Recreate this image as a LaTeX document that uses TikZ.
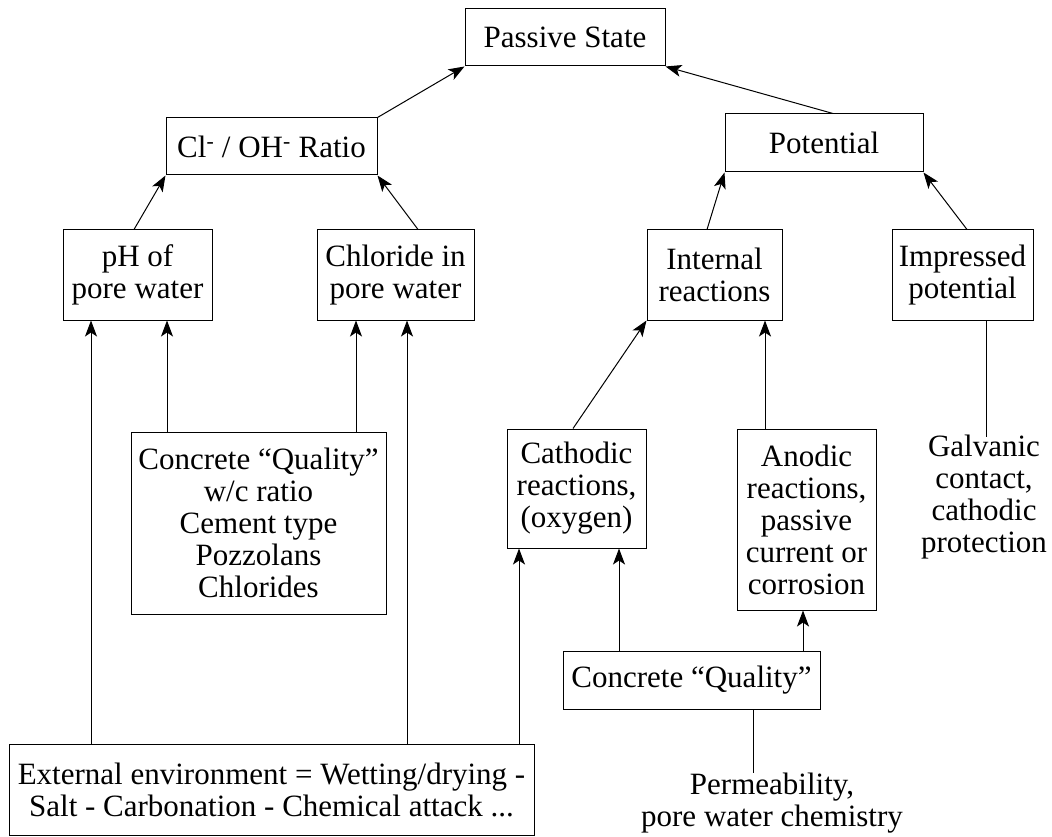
\documentclass[tikz,border=0pt]{standalone}
\usepackage{fontspec}
\setmainfont{Liberation Serif}
\usetikzlibrary{arrows.meta}

\begin{document}
\begin{tikzpicture}[x=1pt, y=-1pt, >={Stealth[length=16pt,width=12pt,inset=4pt]},
    font=\fontsize{31}{32}\selectfont,
    block/.style={rectangle, draw, line width=1pt, inner sep=0pt, align=center},
    plain/.style={inner sep=0pt, align=center},
    arrow/.style={->, line width=1pt},
    link/.style={line width=1pt}]
    \useasboundingbox (0,0) rectangle (1052,837);
    \node[block, minimum width=200pt, minimum height=57pt] (passive) at (565,37.5) {Passive State};
    \node[block, minimum width=211pt, minimum height=57pt] (ratio) at (271.5,146.5) {Cl\textsuperscript{-} / OH\textsuperscript{-} Ratio};
    \node[block, minimum width=198pt, minimum height=58pt] (potential) at (824,143) {Potential};
    \node[block, minimum width=149pt, minimum height=90pt] (ph) at (137.5,275) {pH of\\pore water};
    \node[block, minimum width=157pt, minimum height=90pt] (chloride) at (395.5,275) {Chloride in\\pore water};
    \node[block, minimum width=135pt, minimum height=90pt] (internal) at (714.5,275) {Internal\\reactions};
    \node[block, minimum width=141pt, minimum height=90pt] (impressed) at (962.5,275) {Impressed\\potential};
    \node[block, minimum width=255pt, minimum height=182pt] (quality) at (258.5,523) {Concrete “Quality”\\w/c ratio\\Cement type\\Pozzolans\\Chlorides};
    \node[block, minimum width=139pt, minimum height=119pt] (cathodic) at (576.5,488.5) {Cathodic\\reactions,\\(oxygen)};
    \node[block, minimum width=139pt, minimum height=181pt] (anodic) at (806.5,519.5) {Anodic\\reactions,\\passive\\current or\\corrosion};
    \node[block, minimum width=257pt, minimum height=58pt] (qualityr) at (691.5,680) {Concrete “Quality”};
    \node[block, minimum width=525pt, minimum height=91pt] (external) at (271.5,789.5) {External environment = Wetting/drying -\\Salt - Carbonation - Chemical attack ...};
    \node[plain] (galvanic) at (984,497) {Galvanic\\contact,\\cathodic\\protection};
    \node[plain] (perm) at (772,803) {Permeability,\\pore water chemistry};

    \draw[arrow] (ratio.north east) -- (passive.south west);
    \draw[arrow] ([xshift=9pt]potential.north) -- (passive.south east);
    \draw[arrow] ([xshift=-3.5pt]ph.north) -- (ratio.south west);
    \draw[arrow] ([xshift=22.5pt]chloride.north) -- (ratio.south east);
    \draw[arrow] ([xshift=-7.5pt]internal.north) -- (potential.south west);
    \draw[arrow] ([xshift=4.5pt]impressed.north) -- (potential.south east);
    \draw[arrow] ([xshift=-3.5pt]cathodic.north) -- (internal.south west);
    \draw[arrow] ([xshift=-41.5pt]anodic.north) -- ([xshift=-41.5pt]anodic.north |- internal.south);
    \draw[arrow] ([xshift=-91.5pt]quality.north) -- ([xshift=-91.5pt]quality.north |- ph.south);
    \draw[arrow] ([xshift=97.5pt]quality.north) -- ([xshift=97.5pt]quality.north |- chloride.south);
    \draw[arrow] ([xshift=-180.5pt]external.north) -- ([xshift=-180.5pt]external.north |- ph.south);
    \draw[arrow] ([xshift=135.5pt]external.north) -- ([xshift=135.5pt]external.north |- chloride.south);
    \draw[arrow] ([xshift=247.5pt]external.north) -- ([xshift=247.5pt]external.north |- cathodic.south);
    \draw[arrow] ([xshift=-72.5pt]qualityr.north) -- ([xshift=-72.5pt]qualityr.north |- cathodic.south);
    \draw[arrow] ([xshift=111.5pt]qualityr.north) -- ([xshift=111.5pt]qualityr.north |- anodic.south);
    \draw[link] ([xshift=61.5pt]qualityr.south) -- ([xshift=61.5pt]qualityr.south |- perm.north);
    \draw[link] ([xshift=23.5pt]impressed.south) -- ([xshift=23.5pt,yshift=-2pt]impressed.south |- galvanic.north);
\end{tikzpicture}
\end{document}
